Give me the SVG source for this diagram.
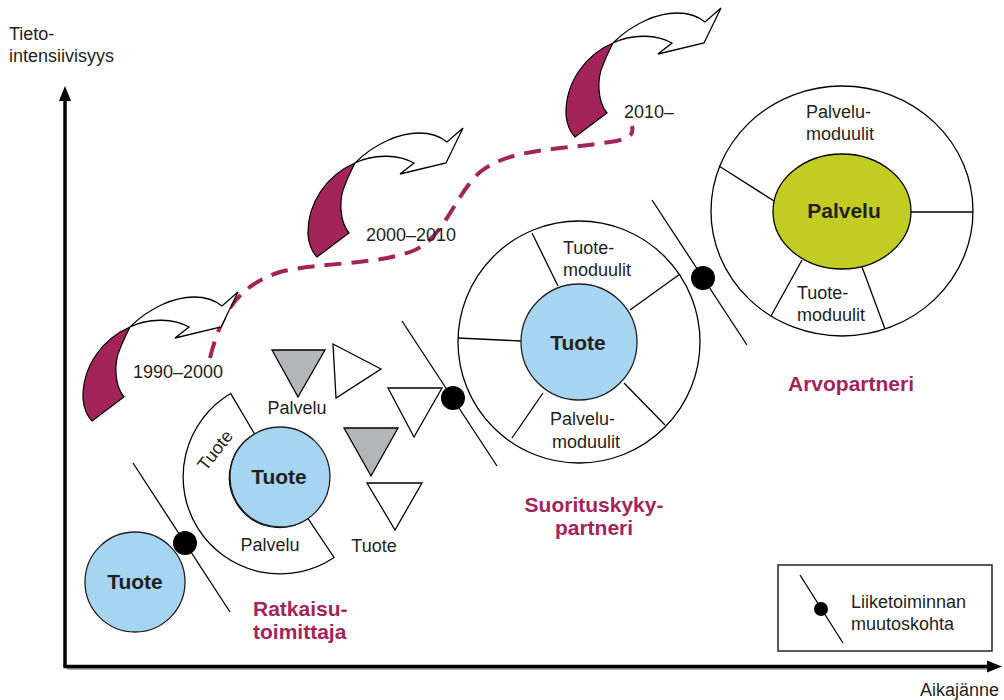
<svg xmlns="http://www.w3.org/2000/svg" width="1004" height="700" viewBox="0 0 1004 700">
<style>
text{font-family:"Liberation Sans",Arial,sans-serif;fill:#231f20;font-size:18px}
.b{font-weight:bold;font-size:21px}
.m{font-weight:bold;font-size:21px;fill:#a3245b}
.mid{text-anchor:middle}
.ln{stroke:#000;stroke-width:1.3;fill:none}
.blue{fill:#a6d5f2;stroke:#231f20;stroke-width:1.3}
.wt{fill:#fff;stroke:#000;stroke-width:1.3}
.gt{fill:#b3b5b8;stroke:#000;stroke-width:1.3}
.mag{fill:#a3245b;stroke:#000;stroke-width:1.2}
.dash{fill:none;stroke:#a3245b;stroke-width:4;stroke-dasharray:17 10}
</style>
<defs>
<g id="turn">
<path class="mag" d="M0 0 C-28 12,-48 40,-47 72 C-46 82,-42 90,-38 94 L-6 70 C-16 58,-16 35,-10 22 C-7 14,-3 6,0 0 Z"/>
<path class="wt" d="M0 0 C20 -20,45 -30,64 -30 C76 -30,86 -26,92 -21 L108 -35 L91 0 L45 11 L59 0 C45 -8,20 -10,0 0 Z"/>
</g>
</defs>
<rect width="1004" height="700" fill="#fff"/>

<g id="axes">
<line x1="67" y1="669" x2="990" y2="669" stroke="#aaa" stroke-width="2"/>
<line x1="65" y1="667" x2="65" y2="98" stroke="#000" stroke-width="3.5"/>
<polygon points="65,86 59,101 71,101" fill="#000"/>
<line x1="63.5" y1="666.5" x2="989" y2="666.5" stroke="#000" stroke-width="3.5"/>
<polygon points="1002,666.5 987,660.5 987,672.5" fill="#000"/>
<text x="9" y="40">Tieto-</text>
<text x="9" y="62">intensiivisyys</text>
<text x="920" y="696">Aikajänne</text>
</g>

<g id="connectors">
<path class="dash" d="M210 358 C222 310,240 285,280 272 C320 262,380 265,415 250 C445 236,455 195,480 172 C510 148,560 150,610 142 C630 139,634 135,632 126"/>
</g>

<g id="arrow1"><use href="#turn" transform="translate(130,327)"/><text x="133" y="378">1990–2000</text></g>
<g id="arrow2"><use href="#turn" transform="translate(355,163)"/><text x="366" y="241">2000–2010</text></g>
<g id="arrow3"><use href="#turn" transform="translate(613,43)"/><text x="624" y="118">2010–</text></g>

<g id="tuote-small">
<circle class="blue" cx="135" cy="582" r="50"/>
<text class="b mid" x="135" y="589">Tuote</text>
</g>

<g id="change1">
<line class="ln" x1="133" y1="463" x2="230" y2="612"/>
<circle cx="185" cy="543" r="12" fill="#000"/>
</g>

<g id="ratkaisu">
<path class="wt" d="M254.6 434 L230.6 393.5 A97 97 0 1 0 334.1 557.5 L307.9 518.5 A50 50 0 1 1 254.6 434 Z"/>
<circle class="blue" cx="280" cy="477" r="50"/>
<text class="b mid" x="279" y="484">Tuote</text>
<text class="mid" x="220" y="454" transform="rotate(-52 220 454)">Tuote</text>
<text class="mid" x="270" y="551">Palvelu</text>
<text class="m" x="253" y="616">Ratkaisu-</text>
<text class="m" x="253" y="639">toimittaja</text>
</g>

<g id="modules">
<polygon class="gt" points="272,350 325,350 298,397"/>
<polygon class="wt" points="333,344 381,369 336,398"/>
<text class="mid" x="297" y="414">Palvelu</text>
<polygon class="gt" points="344,428 398,428 371,476"/>
<polygon class="wt" points="367,483 422,483 395,530"/>
<text class="mid" x="374" y="552">Tuote</text>
<polygon class="wt" points="388,388 442,388 414,437"/>
</g>

<g id="change2">
<line class="ln" x1="402" y1="321" x2="497" y2="466"/>
<circle cx="453" cy="398" r="12" fill="#000"/>
</g>

<g id="suorituskyky">
<circle class="wt" cx="579" cy="342" r="121"/>
<line class="ln" x1="532" y1="233" x2="558" y2="286"/>
<line class="ln" x1="630" y1="310" x2="680" y2="274"/>
<line class="ln" x1="458" y1="338" x2="521" y2="341"/>
<line class="ln" x1="543" y1="393" x2="512" y2="438"/>
<line class="ln" x1="624" y1="383" x2="665" y2="425"/>
<circle class="blue" cx="579" cy="342" r="58"/>
<text class="b mid" x="578" y="350">Tuote</text>
<text x="563" y="254">Tuote-</text>
<text x="563" y="276">moduulit</text>
<text x="550" y="425">Palvelu-</text>
<text x="552" y="448">moduulit</text>
<text class="m mid" x="594" y="512">Suorituskyky-</text>
<text class="m mid" x="594" y="535">partneri</text>
</g>

<g id="change3">
<line class="ln" x1="652" y1="200" x2="747" y2="345"/>
<circle cx="703" cy="278" r="12" fill="#000"/>
</g>

<g id="arvopartneri">
<ellipse class="wt" cx="842" cy="211" rx="131" ry="125"/>
<line class="ln" x1="719" y1="166" x2="774" y2="201"/>
<line class="ln" x1="911" y1="212" x2="973" y2="212"/>
<line class="ln" x1="802" y1="260" x2="771" y2="316"/>
<line class="ln" x1="862" y1="267" x2="885" y2="329"/>
<ellipse cx="842" cy="211.5" rx="69" ry="57.5" fill="#c3cc22" stroke="#000" stroke-width="1.3"/>
<text class="b mid" x="844" y="218">Palvelu</text>
<text x="806" y="118">Palvelu-</text>
<text x="806" y="140">moduulit</text>
<text x="797" y="299">Tuote-</text>
<text x="797" y="321">moduulit</text>
<text class="m mid" x="851" y="391">Arvopartneri</text>
</g>

<g id="legend">
<rect x="778" y="565" width="214" height="86" fill="#fff" stroke="#222" stroke-width="1.5"/>
<line class="ln" x1="800" y1="575" x2="843" y2="643"/>
<circle cx="821" cy="609" r="7" fill="#000"/>
<text x="851" y="608">Liiketoiminnan</text>
<text x="851" y="630">muutoskohta</text>
</g>
</svg>
